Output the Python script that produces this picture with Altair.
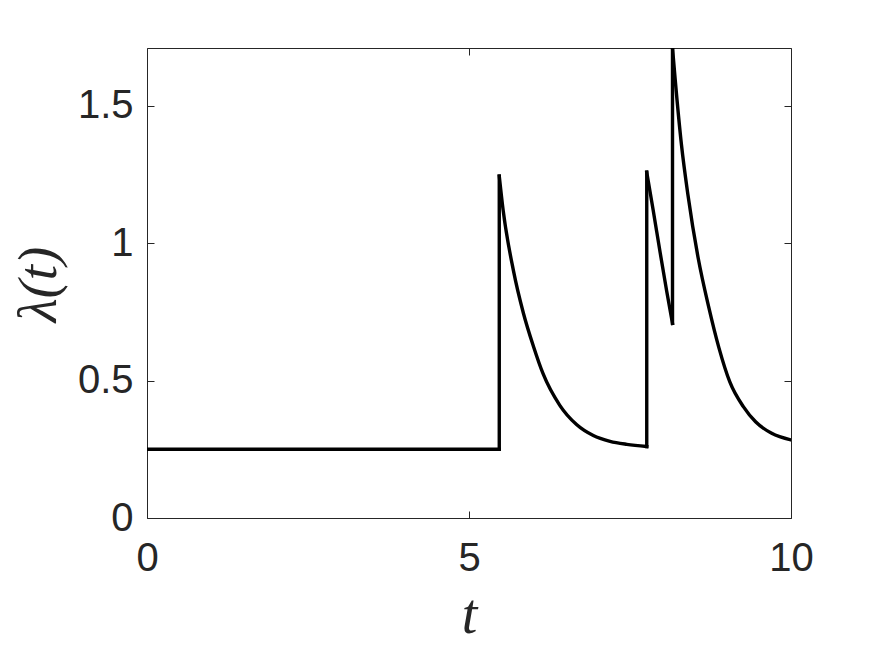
import altair as alt
import pandas as pd

# Read-off values of the intensity lambda(t), split into segments
seg_base_t = [0.0, 5.47]
seg_base_l = [0.25, 0.25]

seg_jump1_t = [5.47, 5.47]
seg_jump1_l = [0.25, 1.244]

seg_decay1_t = [5.47, 5.53, 5.69, 5.845, 6.0, 6.15, 6.41, 6.67, 6.93, 7.19, 7.45, 7.76]
seg_decay1_l = [1.244, 1.12, 0.90, 0.745, 0.625, 0.525, 0.41, 0.34, 0.30, 0.279, 0.268, 0.26]

seg_jump2_t = [7.76, 7.76]
seg_jump2_l = [0.26, 1.258]

seg_decay2_t = [7.76, 7.86, 7.97, 8.07, 8.16]
seg_decay2_l = [1.258, 1.12, 0.963, 0.825, 0.708]

seg_jump3_t = [8.16, 8.16]
seg_jump3_l = [0.708, 1.71]

seg_decay3_t = [8.16, 8.20, 8.30, 8.40, 8.56, 8.72, 8.88, 9.05, 9.26, 9.45, 9.70, 10.0]
seg_decay3_l = [1.71, 1.60, 1.356, 1.175, 0.944, 0.77, 0.62, 0.495, 0.405, 0.35, 0.308, 0.284]

x_ticks = [0, 5, 10]
y_ticks = [0, 0.5, 1, 1.5]

segments = [
    ("base", seg_base_t, seg_base_l),
    ("jump1", seg_jump1_t, seg_jump1_l),
    ("decay1", seg_decay1_t, seg_decay1_l),
    ("jump2", seg_jump2_t, seg_jump2_l),
    ("decay2", seg_decay2_t, seg_decay2_l),
    ("jump3", seg_jump3_t, seg_jump3_l),
    ("decay3", seg_decay3_t, seg_decay3_l),
]
rows = []
for name, ts, ls in segments:
    for i, (t, l) in enumerate(zip(ts, ls)):
        rows.append({"t": t, "lam": l, "seg": name, "i": i})
df = pd.DataFrame(rows)

AX = "#262626"
xscale = alt.Scale(domain=[0, 10], nice=False, zero=False)
yscale = alt.Scale(domain=[0, 1.71], nice=False, zero=False)

base = alt.Chart(df)

main = base.mark_line(color="black", strokeWidth=3.4, interpolate="monotone",
                      clip=True, strokeCap="square").encode(
    x=alt.X("t:Q", scale=xscale, axis=alt.Axis(
        orient="bottom", values=x_ticks, ticks=False, domain=False, grid=False,
        labelFont="Liberation Sans", labelFontSize=40, labelColor=AX, labelPadding=20,
        labelFlush=False, labelOverlap=False,
        title="t", titleFont="Liberation Serif", titleFontStyle="italic",
        titleFontWeight="normal", titleFontSize=56, titleColor=AX,
        titleBaseline="alphabetic", titleY=114, titleX=322, titleAlign="center")),
    y=alt.Y("lam:Q", scale=yscale, axis=alt.Axis(
        orient="left", values=y_ticks, ticks=False, domain=False, grid=False,
        labelFont="Liberation Sans", labelFontSize=40, labelColor=AX, labelPadding=14,
        labelFlush=False, labelOverlap=False,
        labelExpr="datum.value + ''",
        title="λ(t)", titleFont="Liberation Serif", titleFontStyle="italic",
        titleFontWeight="normal", titleFontSize=55, titleColor=AX,
        titleAngle=270, titleBaseline="alphabetic", titleAlign="center",
        titleX=-92, titleY=236)),
    detail="seg:N",
    order="i:Q",
)

def tick_axis(orient, values):
    return alt.Axis(orient=orient, values=values, ticks=True, tickSize=7,
                    tickColor=AX, tickWidth=1, offset=-7, labels=False,
                    domain=False, grid=False, title=None)

ticks_bl = base.mark_line(opacity=0).encode(
    x=alt.X("t:Q", scale=xscale, axis=tick_axis("bottom", x_ticks)),
    y=alt.Y("lam:Q", scale=yscale, axis=tick_axis("left", y_ticks)),
    detail="seg:N", order="i:Q",
)
ticks_tr = base.mark_line(opacity=0).encode(
    x=alt.X("t:Q", scale=xscale, axis=tick_axis("top", x_ticks)),
    y=alt.Y("lam:Q", scale=yscale, axis=tick_axis("right", y_ticks)),
    detail="seg:N", order="i:Q",
)

chart = alt.layer(main, ticks_bl, ticks_tr).resolve_axis(
    x="independent", y="independent"
).properties(
    width=644, height=470,
    autosize=alt.AutoSizeParams(type="none"),
    padding={"left": 139, "top": 40, "right": 76, "bottom": 126},
    background="white",
).configure_view(stroke=AX, strokeWidth=1)

chart.save("out.html", embed_options={"renderer": "svg", "actions": False})
